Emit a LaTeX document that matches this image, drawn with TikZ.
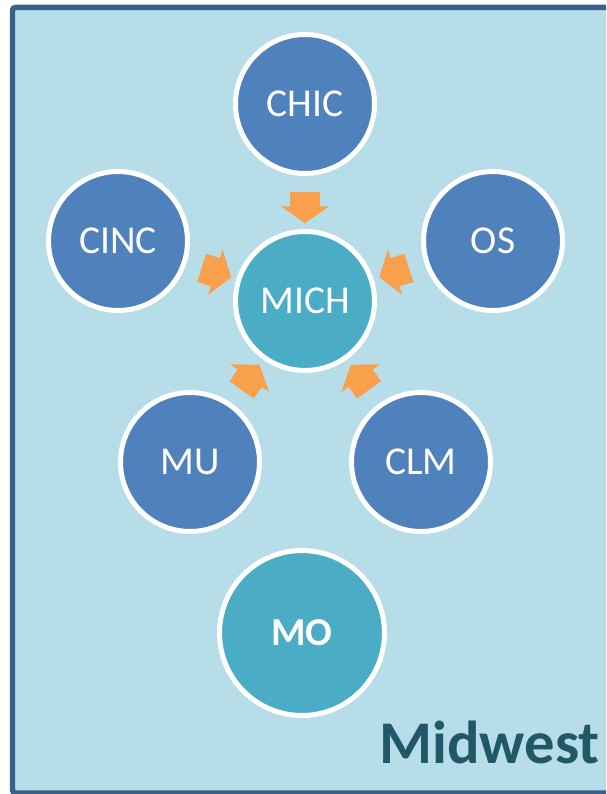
\documentclass[tikz,border=0pt]{standalone}
\usepackage{fontspec}
\setmainfont{Carlito}
\usetikzlibrary{shapes.arrows,calc}
\definecolor{midwestPanel}{RGB}{183, 222, 232}
\definecolor{midwestBorder}{RGB}{58, 95, 139}
\definecolor{midwestBlue}{RGB}{79, 129, 189}
\definecolor{midwestTeal}{RGB}{75, 172, 198}
\definecolor{midwestOrange}{RGB}{249, 160, 77}
\definecolor{midwestTitle}{RGB}{33, 88, 104}

\begin{document}
\begin{tikzpicture}[
  x=0.02cm, y=-0.02cm,
  site/.style={
    circle,
    draw=white,
    line width=0.1cm,
    minimum size=2.78cm,
    inner sep=0pt,
    text=white,
    font=\fontsize{22.5}{26}\selectfont
  },
  flow/.style={
    single arrow,
    fill=midwestOrange,
    minimum height=0.62cm,
    inner xsep=0pt,
    inner ysep=0.29cm,
    single arrow head extend=0.18cm,
    single arrow tip angle=110,
    sloped,
    allow upside down
  }
]
  \useasboundingbox (0,0) rectangle (606,794);
  \clip (0,0) rectangle (606,794);
  \draw[midwestBorder,fill=midwestPanel,line width=0.11cm,rounded corners=0.06cm]
    (12.5,7.5) rectangle (640,793);

  \node[site,fill=midwestTeal] (mich) at (305,301) {MICH};
  \node[site,fill=midwestBlue] (chic) at (305,104) {CHIC};
  \node[site,fill=midwestBlue] (cinc) at (118,241) {CINC};
  \node[site,fill=midwestBlue] (os) at (493,241) {OS};
  \node[site,fill=midwestBlue] (mu) at (190,462) {MU};
  \node[site,fill=midwestBlue] (clm) at (421,462) {CLM};
  \node[site,fill=midwestTeal,minimum size=3.3cm,font=\fontsize{22.5}{26}\selectfont\bfseries] (mo) at (302,633) {MO};

  \path (chic) -- node[flow] (a1) {} (mich);
  \path (cinc) -- node[flow] (a2) {} (mich);
  \path (os) -- node[flow] (a3) {} (mich);
  \path (mu) -- node[flow] (a4) {} (mich);
  \path (clm) -- node[flow] (a5) {} (mich);

  \node[anchor=base east,inner sep=0pt,text=midwestTitle,font=\fontsize{34.5}{40}\selectfont\bfseries] (region) at (600,763) {Midwest};
\end{tikzpicture}
\end{document}
